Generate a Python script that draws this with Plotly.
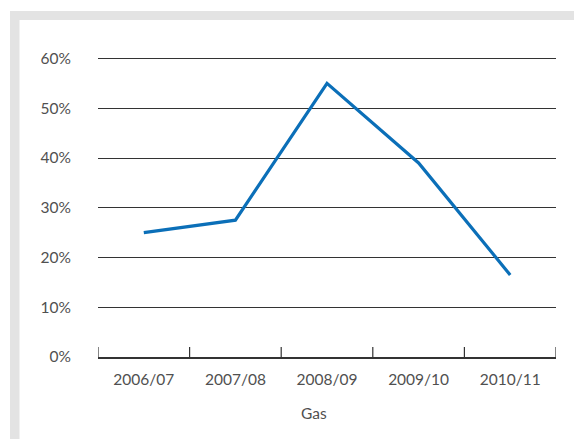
import plotly.graph_objects as go

# Gas share by financial year
years = ["2006/07", "2007/08", "2008/09", "2009/10", "2010/11"]
gas_pct = [25.0, 27.5, 55.0, 39.0, 16.5]
y_ticks = [0, 10, 20, 30, 40, 50, 60]
y_tick_labels = ["0%", "10%", "20%", "30%", "40%", "50%", "60%"]

W, H = 574, 439
ML, MR, MT, MB = 98, 18, 57, 82
PW, PH = W - ML - MR, H - MT - MB


def px_x(p):
    return (p - ML) / PW


def px_y(p):
    return 1 - (p - MT) / PH


FONT = dict(family="Lato, 'Noto Sans', sans-serif", size=15.5, color="#505050")
FRAME = "#e3e3e3"
AXIS = "#333333"

# boundaries between the year categories, including both outer edges
bounds = [i - 0.5 for i in range(len(years) + 1)]

fig = go.Figure()
fig.add_trace(go.Scatter(
    x=years, y=gas_pct, mode="lines",
    line=dict(color="#0b6fb8", width=3.2),
    hoverinfo="skip", showlegend=False,
))

# light grey frame along the left and top edges
fig.add_shape(type="rect", xref="paper", yref="paper", layer="below",
              x0=px_x(10), x1=px_x(19.5), y0=px_y(H), y1=px_y(11),
              fillcolor=FRAME, line_width=0)
fig.add_shape(type="rect", xref="paper", yref="paper", layer="below",
              x0=px_x(10), x1=px_x(W), y0=px_y(20), y1=px_y(11),
              fillcolor=FRAME, line_width=0)

# upward tick marks at every category boundary, 10 px tall
for b in bounds:
    fig.add_shape(type="line", xref="x", yref="paper",
                  ysizemode="pixel", yanchor=0, y0=0, y1=10,
                  x0=b, x1=b, line=dict(color=AXIS, width=1.2))

fig.add_annotation(text="Gas", xref="paper", yref="paper",
                   x=px_x(314), y=px_y(413), showarrow=False,
                   font=FONT, xanchor="center", yanchor="middle")

fig.update_layout(
    width=W, height=H,
    margin=dict(l=ML, r=MR, t=MT, b=MB),
    paper_bgcolor="white", plot_bgcolor="rgba(0,0,0,0)",
    font=FONT,
    xaxis=dict(
        type="category", range=[-0.5, 4.5],
        showgrid=False, zeroline=False,
        showline=True, linecolor=AXIS, linewidth=1.5,
        ticks="", ticklabelstandoff=8,
        tickfont=FONT,
    ),
    yaxis=dict(
        range=[0, 60.3],
        tickvals=y_ticks, ticktext=y_tick_labels,
        showgrid=True, gridcolor=AXIS, gridwidth=1.3,
        zeroline=False, showline=False, ticks="",
        ticklabelstandoff=26,
        tickfont=FONT,
    ),
)

fig.write_html("out.html")
